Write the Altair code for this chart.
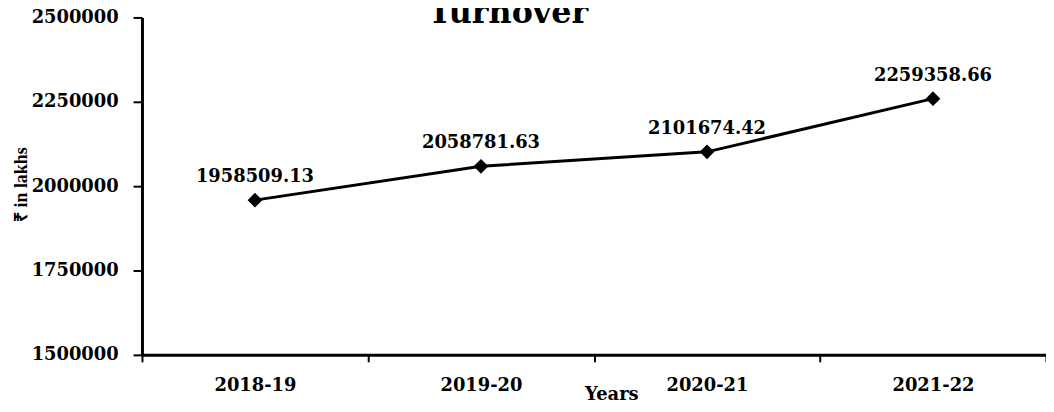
import altair as alt
import pandas as pd

years = ["2018-19", "2019-20", "2020-21", "2021-22"]
turnover = [1958509.13, 2058781.63, 2101674.42, 2259358.66]
y_ticks = [1500000, 1750000, 2000000, 2250000, 2500000]
chart_title = ["Turnover"]

df = pd.DataFrame({"year": years, "turnover": turnover})
df["label"] = [f"{v:.2f}" for v in turnover]

FONT = "DejaVu Serif"
FS = 18

x = alt.X(
    "year:N", sort=years, bandPosition=0.5,
    scale=alt.Scale(type="band", paddingInner=0, paddingOuter=0),
    axis=alt.Axis(
        title="Years", labelAngle=0, tickBand="extent", tickSize=7, tickWidth=2,
        tickColor="black", domainColor="black", domainWidth=3,
        labelFont=FONT, labelFontSize=FS, labelFontWeight="bold", labelColor="black",
        labelPadding=15, titleFont=FONT, titleFontSize=18, titleFontWeight="bold",
        titleColor="black", titleX=473, titleY=45, titleAlign="center",
        titleBaseline="alphabetic", grid=False,
    ),
)
y = alt.Y(
    "turnover:Q",
    scale=alt.Scale(domain=[1500000, 2500000], nice=False, zero=False),
    axis=alt.Axis(
        values=y_ticks, format="d", title="₹ in lakhs", tickSize=9, tickWidth=2,
        tickColor="black", domainColor="black", domainWidth=3,
        labelFont=FONT, labelFontSize=FS, labelFontWeight="bold", labelColor="black",
        labelPadding=15, titleFont="Liberation Serif", titleFontSize=18,
        titleFontWeight="bold", titleColor="black", titleAngle=-90,
        titleX=-121, titleY=168, titleAlign="center", titleBaseline="middle", grid=False,
    ),
)

base = alt.Chart(df).encode(x=x, y=y)
line = base.mark_line(color="black", strokeWidth=3)
pts = base.mark_point(shape="diamond", filled=True, size=220, color="black", opacity=1)
txt = base.mark_text(font=FONT, fontSize=FS, fontWeight="bold", color="black",
                     baseline="alphabetic", dy=-18).encode(text="label:N")

title_layer = alt.Chart(pd.DataFrame({"t": chart_title})).mark_text(
    font=FONT, fontSize=32, fontWeight="bold", color="black",
    align="center", baseline="alphabetic",
).encode(text="t:N", x=alt.value(369), y=alt.value(6))

chart = alt.layer(line, pts, txt, title_layer).properties(
    width=911, height=340,
    autosize=alt.AutoSizeParams(type="none"),
    padding={"left": 135, "top": 8, "right": 0, "bottom": 48},
).configure_view(strokeWidth=0)

chart.save("out.html", embed_options={"renderer": "svg", "actions": False})
